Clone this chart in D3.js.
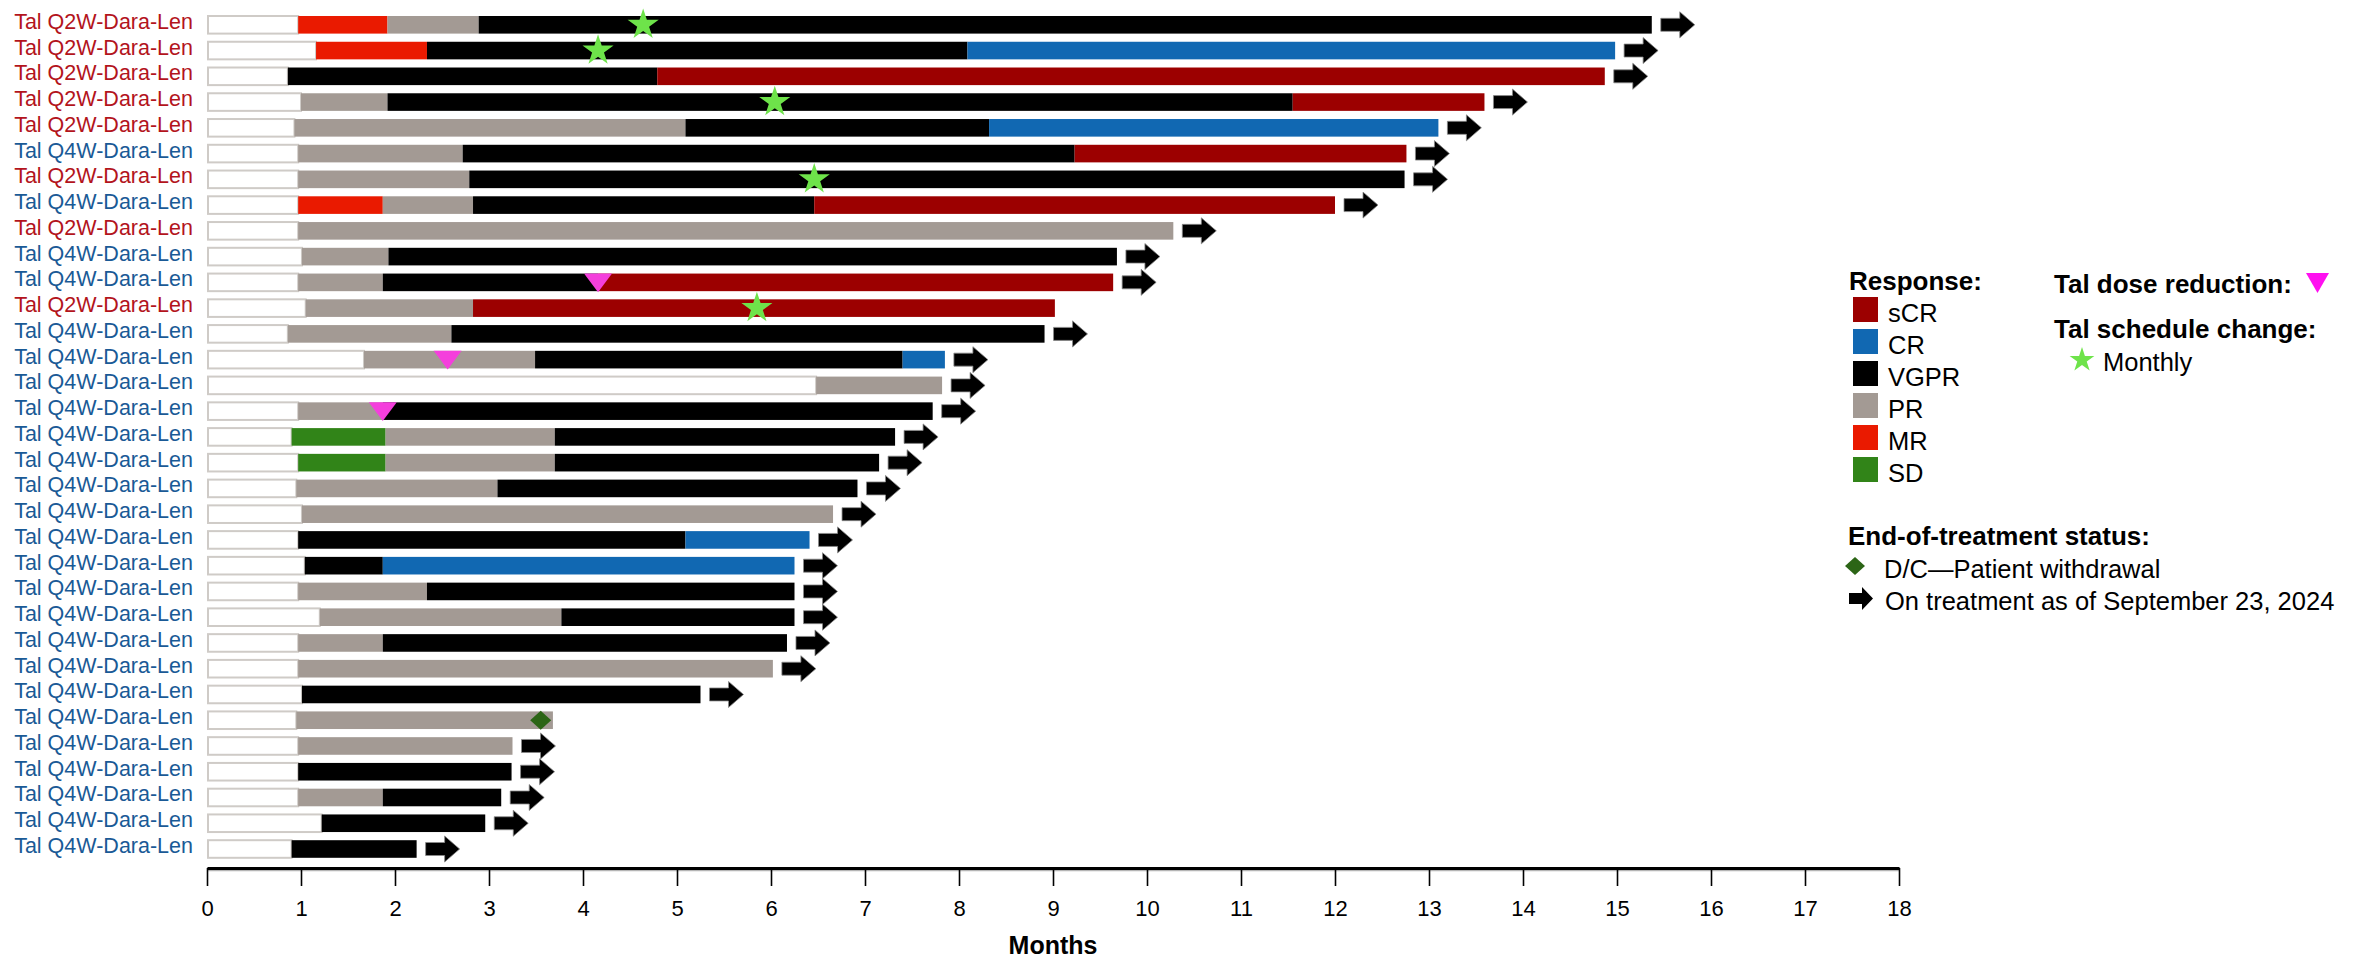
<!DOCTYPE html>
<html>
<head>
<meta charset="utf-8">
<script src="https://cdn.jsdelivr.net/npm/d3@7"></script>
<style>
  body { margin: 0; background: #fff; }
  text { font-family: "Liberation Sans", Arial, sans-serif; }
</style>
</head>
<body>
<div id="chart"></div>
<script>
// one entry per patient, top to bottom
const regimens = ["Q2W","Q2W","Q2W","Q2W","Q2W","Q4W","Q2W","Q4W","Q2W","Q4W","Q4W","Q2W",
  "Q4W","Q4W","Q4W","Q4W","Q4W","Q4W","Q4W","Q4W","Q4W","Q4W","Q4W","Q4W","Q4W","Q4W","Q4W",
  "Q4W","Q4W","Q4W","Q4W","Q4W","Q4W"];

// end of the white (pre-response) part, months
const screenEnd = [0.97,1.16,0.86,1.0,0.93,0.97,0.97,0.97,0.97,1.01,0.97,1.05,0.86,1.67,6.48,
  0.97,0.9,0.97,0.95,1.01,0.97,1.04,0.97,1.2,0.97,0.97,1.01,0.95,0.97,0.97,0.97,1.22,0.9];

// response phases: [response, month it ends]
const responses = [
  [["MR",1.92],["PR",2.89],["VGPR",15.37]],
  [["MR",2.34],["VGPR",8.09],["CR",14.98]],
  [["VGPR",4.79],["sCR",14.87]],
  [["PR",1.92],["VGPR",11.55],["sCR",13.59]],
  [["PR",5.09],["VGPR",8.32],["CR",13.1]],
  [["PR",2.72],["VGPR",9.23],["sCR",12.76]],
  [["PR",2.79],["VGPR",12.74]],
  [["MR",1.87],["PR",2.83],["VGPR",6.46],["sCR",12.0]],
  [["PR",10.28]],
  [["PR",1.93],["VGPR",9.68]],
  [["PR",1.87],["VGPR",4.16],["sCR",9.64]],
  [["PR",2.83],["sCR",9.02]],
  [["PR",2.6],["VGPR",8.91]],
  [["PR",3.49],["VGPR",7.4],["CR",7.85]],
  [["PR",7.82]],
  [["PR",1.87],["VGPR",7.72]],
  [["SD",1.9],["PR",3.7],["VGPR",7.32]],
  [["SD",1.9],["PR",3.7],["VGPR",7.15]],
  [["PR",3.09],["VGPR",6.92]],
  [["PR",6.66]],
  [["VGPR",5.09],["CR",6.41]],
  [["VGPR",1.87],["CR",6.25]],
  [["PR",2.34],["VGPR",6.25]],
  [["PR",3.77],["VGPR",6.25]],
  [["PR",1.87],["VGPR",6.17]],
  [["PR",6.02]],
  [["VGPR",5.25]],
  [["PR",3.68]],
  [["PR",3.25]],
  [["VGPR",3.24]],
  [["PR",1.87],["VGPR",3.13]],
  [["VGPR",2.96]],
  [["VGPR",2.23]]
];

const offTreatment = [11, 27];           // rows without an arrow
const scheduleChange = [[0,4.64],[1,4.16],[3,6.04],[6,6.46],[11,5.85]];
const doseReduction = [[10,4.16],[13,2.56],[15,1.87]];
const withdrawal = [[27,3.55]];

const responseTypes = ["sCR","CR","VGPR","PR","MR","SD"];
const responseColors = ["#9c0000","#1168b2","#000000","#a39a94","#ea1a00","#318418"];
const monthTicks = d3.range(0, 19);

var W = 2353, H = 961;
var color = d3.scaleOrdinal().domain(responseTypes).range(responseColors);
var x = d3.scaleLinear().domain([0, 18]).range([207, 1899]);
var y = d3.scalePoint().domain(d3.range(regimens.length)).range([24.8, 849]);
var barH = 17.6;

var svg = d3.select("#chart").append("svg")
    .attr("width", W).attr("height", H)
    .style("background", "#fff");

// row labels
svg.selectAll("text.row")
    .data(regimens)
    .enter().append("text")
    .attr("class", "row")
    .attr("x", 193)
    .attr("y", function(d, i) { return y(i) + 4; })
    .attr("text-anchor", "end")
    .style("font-size", "21.5px")
    .style("fill", function(d) { return d == "Q2W" ? "#b3141c" : "#1a5a96"; })
    .text(function(d) { return "Tal " + d + "-Dara-Len"; });

// white part
svg.selectAll("rect.screen")
    .data(screenEnd)
    .enter().append("rect")
    .attr("class", "screen")
    .attr("x", x(0) + 1)
    .attr("y", function(d, i) { return y(i) - barH / 2; })
    .attr("width", function(d) { return x(d) - x(0) - 1; })
    .attr("height", barH)
    .style("fill", "#fff")
    .style("stroke", "#cfcbc7")
    .style("stroke-width", 2);

// response segments
var segs = [];
responses.forEach(function(r, i) {
    var start = screenEnd[i];
    r.forEach(function(p) {
        segs.push({ row: i, resp: p[0], start: start, end: p[1] });
        start = p[1];
    });
});

svg.selectAll("rect.seg")
    .data(segs)
    .enter().append("rect")
    .attr("class", "seg")
    .attr("x", function(d) { return x(d.start); })
    .attr("y", function(d) { return y(d.row) - barH / 2; })
    .attr("width", function(d) { return x(d.end) - x(d.start); })
    .attr("height", barH)
    .style("fill", function(d) { return color(d.resp); });

function arrowPath(x0, cy, len, shaftH, headH, headL) {
    var p = d3.path();
    p.moveTo(x0, cy - shaftH / 2);
    p.lineTo(x0 + len - headL, cy - shaftH / 2);
    p.lineTo(x0 + len - headL, cy - headH / 2);
    p.lineTo(x0 + len, cy);
    p.lineTo(x0 + len - headL, cy + headH / 2);
    p.lineTo(x0 + len - headL, cy + shaftH / 2);
    p.lineTo(x0, cy + shaftH / 2);
    p.closePath();
    return p.toString();
}

// on treatment arrows
var ends = responses.map(function(r, i) { return { row: i, end: r[r.length - 1][1] }; })
    .filter(function(d) { return offTreatment.indexOf(d.row) < 0; });

svg.selectAll("path.arrow")
    .data(ends)
    .enter().append("path")
    .attr("class", "arrow")
    .attr("d", function(d) { return arrowPath(x(d.end) + 9, y(d.row), 34, 13, 26, 15); })
    .style("fill", "#000")
    .style("stroke", "#8a8a8a")
    .style("stroke-width", 0.8);

// dose reductions
svg.selectAll("path.dose")
    .data(doseReduction)
    .enter().append("path")
    .attr("class", "dose")
    .attr("d", function(d) {
        var cx = x(d[1]), top = y(d[0]) - barH / 2;
        return "M" + (cx - 14) + "," + top + "L" + (cx + 14) + "," + top + "L" + cx + "," + (top + barH + 1) + "Z";
    })
    .style("fill", "#f43fdc");

// schedule change stars
var star = d3.symbol().type(d3.symbolStar);
svg.selectAll("path.star")
    .data(scheduleChange)
    .enter().append("path")
    .attr("class", "star")
    .attr("transform", function(d) { return "translate(" + x(d[1]) + "," + y(d[0]) + ")"; })
    .attr("d", star.size(300)())
    .style("fill", "#6ee34a");

// withdrawal
svg.selectAll("path.wd")
    .data(withdrawal)
    .enter().append("path")
    .attr("class", "wd")
    .attr("transform", function(d) { return "translate(" + x(d[1]) + "," + y(d[0]) + ")"; })
    .attr("d", "M0,-9.5L10.5,0L0,9.5L-10.5,0Z")
    .style("fill", "#2c6516");

// x axis
var axisY = 868;
svg.append("line")
    .attr("x1", x(0)).attr("x2", x(18))
    .attr("y1", axisY + 2.5).attr("y2", axisY + 2.5)
    .style("stroke", "#b5b5b5").style("stroke-width", 1.5);

var gx = svg.append("g")
    .attr("transform", "translate(0," + axisY + ")")
    .call(d3.axisBottom(x).tickValues(monthTicks).tickSize(18).tickSizeOuter(0).tickPadding(14));
gx.select(".domain").style("stroke", "#000").style("stroke-width", 3);
gx.selectAll(".tick line").style("stroke", "#000").style("stroke-width", 1.6);
gx.selectAll(".tick text")
    .style("font-size", "22px")
    .style("font-family", "'Liberation Sans', Arial, sans-serif")
    .style("fill", "#000");

svg.append("text")
    .attr("x", (x(0) + x(18)) / 2)
    .attr("y", 954)
    .attr("text-anchor", "middle")
    .style("font-size", "25px")
    .style("font-weight", "bold")
    .text("Months");

// legend
var lg = svg.append("g");
lg.append("text").attr("x", 1849).attr("y", 290)
    .style("font-size", "26px").style("font-weight", "bold").text("Response:");

var items = lg.selectAll("g.item")
    .data(responseTypes)
    .enter().append("g")
    .attr("class", "item")
    .attr("transform", function(d, i) { return "translate(0," + (i * 32) + ")"; });
items.append("rect")
    .attr("x", 1853).attr("y", 297)
    .attr("width", 25).attr("height", 25)
    .style("fill", function(d) { return color(d); });
items.append("text")
    .attr("x", 1888).attr("y", 322)
    .style("font-size", "25.5px")
    .text(function(d) { return d; });

lg.append("text").attr("x", 2054).attr("y", 293)
    .style("font-size", "26px").style("font-weight", "bold").text("Tal dose reduction:");
lg.append("path")
    .attr("d", "M2306,273L2329,273L2317.5,293Z")
    .style("fill", "#ff10f0");

lg.append("text").attr("x", 2054).attr("y", 338)
    .style("font-size", "26px").style("font-weight", "bold").text("Tal schedule change:");
lg.append("path")
    .attr("transform", "translate(2082,360)")
    .attr("d", star.size(190)())
    .style("fill", "#6ee34a");
lg.append("text").attr("x", 2103).attr("y", 371)
    .style("font-size", "25.5px").text("Monthly");

lg.append("text").attr("x", 1848).attr("y", 545)
    .style("font-size", "26px").style("font-weight", "bold").text("End-of-treatment status:");
lg.append("path")
    .attr("transform", "translate(1855,566)")
    .attr("d", "M0,-9L10,0L0,9L-10,0Z")
    .style("fill", "#2c6516");
lg.append("text").attr("x", 1884).attr("y", 578)
    .style("font-size", "25.5px").text("D/C\u2014Patient withdrawal");
lg.append("path")
    .attr("d", arrowPath(1849, 598.5, 24, 11, 23, 11))
    .style("fill", "#000");
lg.append("text").attr("x", 1885).attr("y", 610)
    .style("font-size", "25.5px").text("On treatment as of September 23, 2024");
</script>
</body>
</html>
